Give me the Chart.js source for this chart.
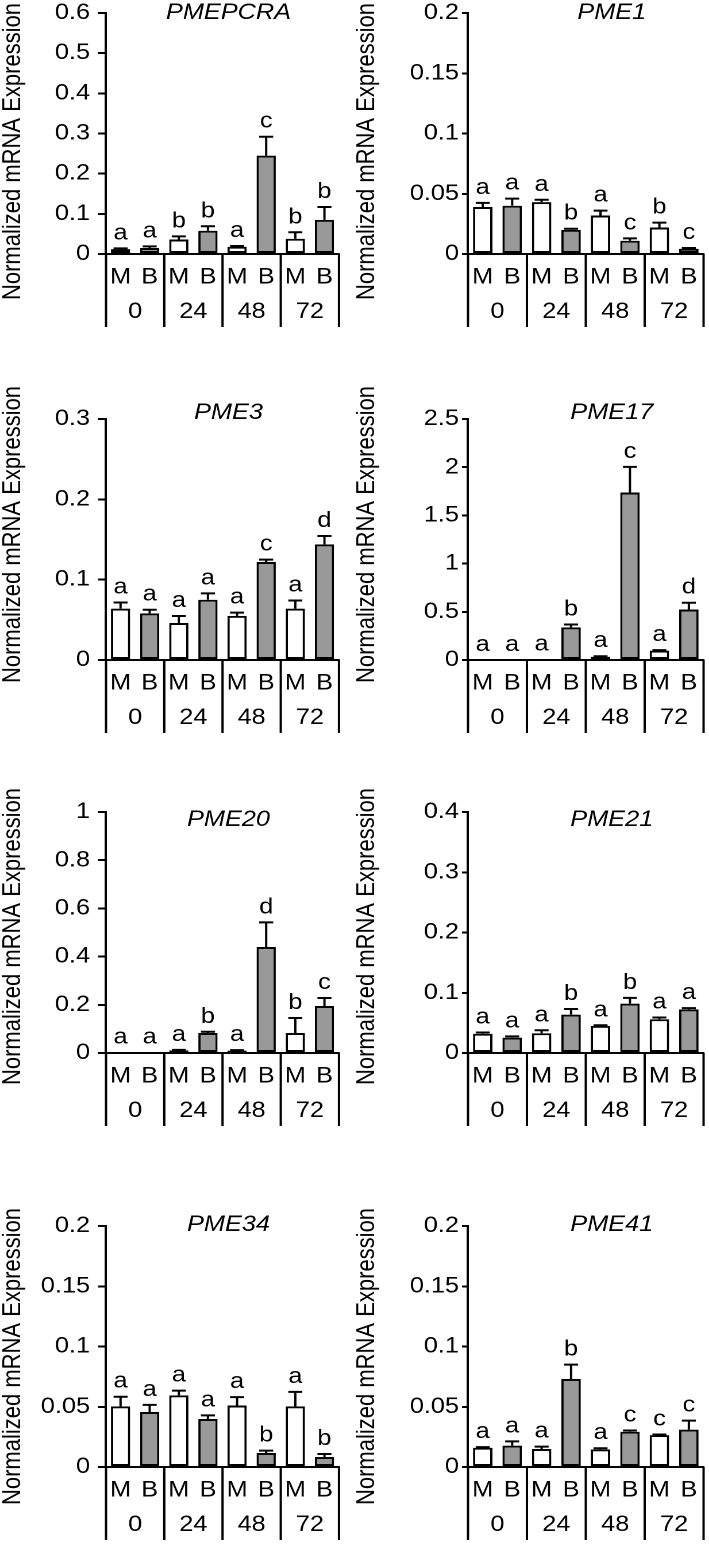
<!DOCTYPE html>
<html>
<head>
<meta charset="utf-8">
<script src="https://cdn.jsdelivr.net/npm/chart.js@4/dist/chart.umd.min.js"></script>
<style>
  body { margin: 0; background: #fff; }
  #fig { position: relative; width: 709px; height: 1561px; overflow: hidden; background: #fff; }
  #fig canvas { position: absolute; }
</style>
</head>
<body>
<div id="fig"></div>
<script>
// time points (h) and treatments, bars go M,B per time point
const hours = ['0', '24', '48', '72'];
const treatments = ['M', 'B'];

const genes = ['PMEPCRA', 'PME1', 'PME3', 'PME17', 'PME20', 'PME21', 'PME34', 'PME41'];
const yMax = [0.6, 0.2, 0.3, 2.5, 1, 0.4, 0.2, 0.2];
const yStep = [0.1, 0.05, 0.1, 0.5, 0.2, 0.1, 0.05, 0.05];

// mean, error and significance letters, order M0 B0 M24 B24 M48 B48 M72 B72
const pmepcraMean = [0.012, 0.015, 0.036, 0.058, 0.018, 0.245, 0.038, 0.085];
const pmepcraErr = [0.002, 0.004, 0.008, 0.011, 0.002, 0.047, 0.016, 0.032];
const pmepcraLetters = ['a', 'a', 'b', 'b', 'a', 'c', 'b', 'b'];

const pme1Mean = [0.039, 0.040, 0.043, 0.020, 0.032, 0.011, 0.022, 0.0044];
const pme1Err = [0.0034, 0.006, 0.002, 0.001, 0.004, 0.002, 0.004, 0.0006];
const pme1Letters = ['a', 'a', 'a', 'b', 'a', 'c', 'b', 'c'];

const pme3Mean = [0.064, 0.058, 0.046, 0.075, 0.055, 0.122, 0.064, 0.144];
const pme3Err = [0.0075, 0.0046, 0.0087, 0.008, 0.004, 0.003, 0.010, 0.0104];
const pme3Letters = ['a', 'a', 'a', 'a', 'a', 'c', 'a', 'd'];

const pme17Mean = [0.002, 0.002, 0.005, 0.338, 0.034, 1.738, 0.097, 0.524];
const pme17Err = [0, 0, 0, 0.03, 0.005, 0.265, 0.005, 0.07];
const pme17Letters = ['a', 'a', 'a', 'b', 'a', 'c', 'a', 'd'];

const pme20Mean = [0.003, 0.003, 0.011, 0.083, 0.010, 0.44, 0.083, 0.195];
const pme20Err = [0, 0, 0.002, 0.005, 0.002, 0.102, 0.062, 0.033];
const pme20Letters = ['a', 'a', 'a', 'b', 'a', 'd', 'b', 'c'];

const pme21Mean = [0.032, 0.0255, 0.0327, 0.0636, 0.045, 0.082, 0.056, 0.0725];
const pme21Err = [0.002, 0.002, 0.005, 0.0094, 0.001, 0.0094, 0.003, 0.002];
const pme21Letters = ['a', 'a', 'a', 'b', 'a', 'b', 'a', 'a'];

const pme34Mean = [0.0503, 0.0456, 0.0594, 0.0398, 0.051, 0.0116, 0.0503, 0.0083];
const pme34Err = [0.008, 0.006, 0.004, 0.003, 0.007, 0.002, 0.012, 0.0025];
const pme34Letters = ['a', 'a', 'a', 'a', 'a', 'b', 'a', 'b'];

const pme41Mean = [0.016, 0.0177, 0.0149, 0.073, 0.0146, 0.0293, 0.0265, 0.031];
const pme41Err = [0.0005, 0.0036, 0.002, 0.012, 0.001, 0.001, 0.0005, 0.0075];
const pme41Letters = ['a', 'a', 'a', 'b', 'a', 'c', 'c', 'c'];

const means = [pmepcraMean, pme1Mean, pme3Mean, pme17Mean, pme20Mean, pme21Mean, pme34Mean, pme41Mean];
const errs = [pmepcraErr, pme1Err, pme3Err, pme17Err, pme20Err, pme21Err, pme34Err, pme41Err];
const letters = [pmepcraLetters, pme1Letters, pme3Letters, pme17Letters, pme20Letters, pme21Letters, pme34Letters, pme41Letters];

const Y_TITLE = 'Normalized mRNA Expression';

// layout of the 2x4 grid (page pixels)
const rowTop = [13, 419, 812, 1226];   // top of each plot area
const titleDy = [0, -6, 8, -1];
const yTitleShift = [18, -5, 4, 10];   // y title centre vs plot centre
const PAD_TOP = 40;
const PLOT_H = 241;
const XAXIS_H = 76;
const CANVAS_H = PAD_TOP + PLOT_H + XAXIS_H + 4;
const cols = [
    { left: 0, width: 354, axisW: 106, padRight: 15, tickLen: 8, tickPad: 8, titleDx: 6 },
    { left: 354, width: 355, axisW: 114, padRight: 4, tickLen: 6, tickPad: 3, titleDx: 26 }
];
// the source figure is stretched sideways, so draw narrower and widen with css
const STRETCH = 1.15;

const FONT = "'Liberation Sans', Arial, sans-serif";
Chart.defaults.font.family = FONT;
Chart.defaults.color = '#000';

const labels = hours.flatMap(() => treatments);

function makePanel(i) {
    const col = cols[i % 2];
    const row = Math.floor(i / 2);
    const mean = means[i], err = errs[i], lets = letters[i];

    const innerW = Math.round(col.width / STRETCH);
    const sx = col.width / innerW;

    const canvas = document.createElement('canvas');
    canvas.width = innerW;
    canvas.height = CANVAS_H;
    canvas.style.width = col.width + 'px';
    canvas.style.height = CANVAS_H + 'px';
    canvas.style.left = col.left + 'px';
    canvas.style.top = (rowTop[row] - PAD_TOP) + 'px';
    document.getElementById('fig').appendChild(canvas);

    // error bars, letters, time point boxes, gene name and y title
    const annotate = {
        id: 'annotate' + i,
        afterDatasetsDraw(chart) {
            const { ctx, chartArea } = chart;
            const x = chart.scales.x, y = chart.scales.y;
            const bars = chart.getDatasetMeta(0).data;
            const cap = 7 / sx;
            ctx.save();
            ctx.strokeStyle = '#000';
            ctx.lineWidth = 2;
            ctx.fillStyle = '#000';
            ctx.font = '22px ' + FONT;
            ctx.textAlign = 'center';
            ctx.textBaseline = 'alphabetic';
            bars.forEach((bar, k) => {
                const top = y.getPixelForValue(mean[k] + err[k]);
                if (err[k] > 0) {
                    ctx.beginPath();
                    ctx.moveTo(bar.x, bar.y);
                    ctx.lineTo(bar.x, top);
                    ctx.moveTo(bar.x - cap, top);
                    ctx.lineTo(bar.x + cap, top);
                    ctx.stroke();
                }
                ctx.fillText(lets[k], bar.x, Math.min(top, bar.y) - 9);
            });

            // boxes under the axis
            const bottom = chartArea.bottom + XAXIS_H - 3;
            const edges = [];
            for (let g = 0; g <= hours.length; g++) {
                if (g === 0) edges.push(chartArea.left);
                else if (g === hours.length) edges.push(chartArea.right);
                else edges.push((x.getPixelForValue(2 * g - 1) + x.getPixelForValue(2 * g)) / 2);
            }
            ctx.beginPath();
            edges.forEach(ex => {
                ctx.moveTo(ex, chartArea.bottom);
                ctx.lineTo(ex, bottom);
            });
            ctx.stroke();
            ctx.textBaseline = 'middle';
            hours.forEach((h, g) => {
                const cx = (x.getPixelForValue(2 * g) + x.getPixelForValue(2 * g + 1)) / 2;
                ctx.fillText(h, cx, chartArea.bottom + 58);
            });

            // gene name
            ctx.font = 'italic 22px ' + FONT;
            ctx.fillText(genes[i], (chartArea.left + chartArea.right) / 2 + col.titleDx / sx, chartArea.top + titleDy[row]);

            // y axis title
            ctx.font = '22px ' + FONT;
            ctx.translate(13 / sx, (chartArea.top + chartArea.bottom) / 2 + yTitleShift[row]);
            ctx.rotate(-Math.PI / 2);
            ctx.fillText(Y_TITLE, 0, 0);
            ctx.restore();
        }
    };

    new Chart(canvas, {
        type: 'bar',
        data: {
            labels: labels,
            datasets: [{
                data: mean,
                backgroundColor: labels.map(t => t === 'M' ? '#ffffff' : '#999999'),
                borderColor: '#000',
                borderWidth: 2,
                borderSkipped: false,
                barPercentage: 0.66,
                categoryPercentage: 1.0
            }]
        },
        options: {
            responsive: false,
            animation: false,
            devicePixelRatio: 2,
            layout: {
                padding: { top: PAD_TOP, right: col.padRight / sx, bottom: 4, left: 0 }
            },
            plugins: {
                legend: { display: false },
                tooltip: { enabled: false }
            },
            scales: {
                x: {
                    grid: { display: false, drawTicks: false },
                    border: { display: true, color: '#000', width: 2 },
                    ticks: { font: { size: 22 }, color: '#000', padding: 10, maxRotation: 0, autoSkip: false },
                    afterFit(s) { s.height = XAXIS_H; }
                },
                y: {
                    min: 0,
                    max: yMax[i],
                    grid: { drawOnChartArea: false, drawTicks: true, tickLength: col.tickLen / sx, lineWidth: 2, color: '#000' },
                    border: { display: true, color: '#000', width: 2 },
                    ticks: {
                        stepSize: yStep[i],
                        font: { size: 22 },
                        color: '#000',
                        padding: col.tickPad / sx,
                        callback: v => String(+v.toFixed(4))
                    },
                    afterFit(s) { s.width = col.axisW / sx; }
                }
            }
        },
        plugins: [annotate]
    });
}

genes.forEach((g, i) => makePanel(i));
</script>
</body>
</html>
